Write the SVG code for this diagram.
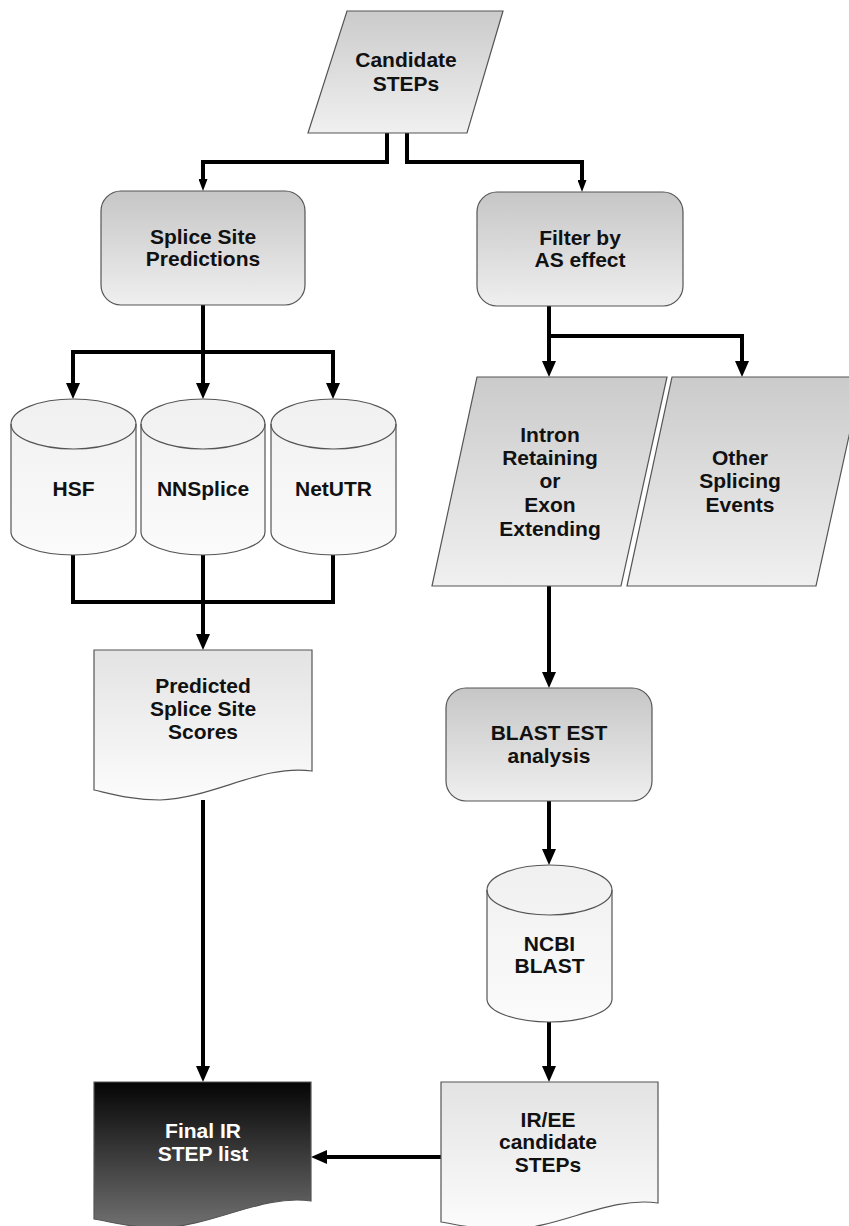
<svg xmlns="http://www.w3.org/2000/svg" width="849" height="1226" viewBox="0 0 849 1226">
<style>
.t{font-family:"Liberation Sans",Arial,sans-serif;font-weight:bold;font-size:21px;fill:#111;text-anchor:middle}
.w{fill:#fff}
.s{stroke:#555;stroke-width:1.2}
.c{fill:none;stroke:#000;stroke-width:4;stroke-linejoin:miter}
</style>
<defs>
<linearGradient id="gBox" x1="0" y1="0" x2="0" y2="1"><stop offset="0" stop-color="#c6c6c6"/><stop offset="1" stop-color="#efefef"/></linearGradient>
<linearGradient id="gPar" x1="0" y1="0" x2="0" y2="1"><stop offset="0" stop-color="#cbcbcb"/><stop offset="1" stop-color="#f0f0f0"/></linearGradient>
<linearGradient id="gCyl" x1="0" y1="0" x2="0" y2="1"><stop offset="0" stop-color="#f0f0f0"/><stop offset="1" stop-color="#fbfbfb"/></linearGradient>
<linearGradient id="gDoc" x1="0" y1="0" x2="0" y2="1"><stop offset="0" stop-color="#e3e3e3"/><stop offset="1" stop-color="#fcfcfc"/></linearGradient>
<linearGradient id="gDark" x1="0" y1="0" x2="0" y2="1"><stop offset="0" stop-color="#050505"/><stop offset="1" stop-color="#707070"/></linearGradient>
<marker id="ah" markerUnits="userSpaceOnUse" viewBox="0 0 16 14" refX="6" refY="7" markerWidth="16" markerHeight="14" orient="auto"><path d="M0,0 L16,7 L0,14 Z" fill="#000"/></marker>
<marker id="as" markerUnits="userSpaceOnUse" viewBox="0 0 12 9" refX="4" refY="4.5" markerWidth="12" markerHeight="9" orient="auto"><path d="M0,0 L12,4.5 L0,9 Z" fill="#000"/></marker>
</defs>

<g id="connectors">
<path class="c" d="M387,133 V162 H203 V183" marker-end="url(#as)"/>
<path class="c" d="M407,133 V162 H582 V184" marker-end="url(#as)"/>
<path class="c" d="M203,305 V389" marker-end="url(#ah)"/>
<path class="c" d="M73,389 V352 H333 V389" />
<path class="c" d="M73,383 V389" marker-end="url(#ah)"/>
<path class="c" d="M333,383 V389" marker-end="url(#ah)"/>
<path class="c" d="M73,555 V602 H333 V555"/>
<path class="c" d="M203,555 V640" marker-end="url(#ah)"/>
<path class="c" d="M549,306 V367" marker-end="url(#ah)"/>
<path class="c" d="M549,336 H742 V367" marker-end="url(#ah)"/>
<path class="c" d="M549,586 V678" marker-end="url(#ah)"/>
<path class="c" d="M549,801 V855" marker-end="url(#ah)"/>
<path class="c" d="M203,800 V1072" marker-end="url(#ah)"/>
<path class="c" d="M549,1022 V1072" marker-end="url(#ah)"/>
<path class="c" d="M441,1157 H321" marker-end="url(#ah)"/>
</g>

<g id="candidate">
<polygon class="s" points="347,11 503,11 467,133 308,133" fill="url(#gPar)"/>
<text class="t" x="406" y="67">Candidate</text>
<text class="t" x="406" y="91">STEPs</text>
</g>

<g id="splice">
<rect class="s" x="101" y="191" width="204" height="114" rx="20" fill="url(#gBox)"/>
<text class="t" x="203" y="244">Splice Site</text>
<text class="t" x="203" y="266">Predictions</text>
</g>

<g id="filter">
<rect class="s" x="477" y="192" width="206" height="114" rx="20" fill="url(#gBox)"/>
<text class="t" x="580" y="245">Filter by</text>
<text class="t" x="580" y="267">AS effect</text>
</g>

<g id="hsf">
<path class="s" d="M11,424 A62.5,25 0 0 1 136,424 V532 A62.5,23 0 0 1 11,532 Z" fill="url(#gCyl)"/>
<path class="s" d="M11,424 A62.5,25 0 0 0 136,424" fill="none"/>
<text class="t" x="73.5" y="496">HSF</text>
</g>

<g id="nnsplice">
<path class="s" d="M141,424 A62,25 0 0 1 265,424 V532 A62,23 0 0 1 141,532 Z" fill="url(#gCyl)"/>
<path class="s" d="M141,424 A62,25 0 0 0 265,424" fill="none"/>
<text class="t" x="203" y="496">NNSplice</text>
</g>

<g id="netutr">
<path class="s" d="M271,424 A62.5,25 0 0 1 396,424 V532 A62.5,23 0 0 1 271,532 Z" fill="url(#gCyl)"/>
<path class="s" d="M271,424 A62.5,25 0 0 0 396,424" fill="none"/>
<text class="t" x="333.5" y="496">NetUTR</text>
</g>

<g id="intron">
<polygon class="s" points="477,377 667,377 621,586 432,586" fill="url(#gPar)"/>
<text class="t" x="550" y="442">Intron</text>
<text class="t" x="550" y="465">Retaining</text>
<text class="t" x="550" y="488">or</text>
<text class="t" x="550" y="512">Exon</text>
<text class="t" x="550" y="536">Extending</text>
</g>

<g id="other">
<polygon class="s" points="672,377 862,377 816,586 627,586" fill="url(#gPar)"/>
<text class="t" x="740" y="465">Other</text>
<text class="t" x="740" y="488">Splicing</text>
<text class="t" x="740" y="512">Events</text>
</g>

<g id="predicted">
<path class="s" d="M94,650 H312 V771 C262,764 214,798 160,800 C132,800 112,794 94,790 Z" fill="url(#gDoc)"/>
<text class="t" x="203" y="693">Predicted</text>
<text class="t" x="203" y="716">Splice Site</text>
<text class="t" x="203" y="739">Scores</text>
</g>

<g id="blast">
<rect class="s" x="446" y="688" width="206" height="113" rx="20" fill="url(#gBox)"/>
<text class="t" x="549" y="740">BLAST EST</text>
<text class="t" x="549" y="763">analysis</text>
</g>

<g id="ncbi">
<path class="s" d="M487,890 A62.5,25 0 0 1 612,890 V999 A62.5,23 0 0 1 487,999 Z" fill="url(#gCyl)"/>
<path class="s" d="M487,890 A62.5,25 0 0 0 612,890" fill="none"/>
<text class="t" x="549.5" y="951">NCBI</text>
<text class="t" x="549.5" y="973">BLAST</text>
</g>

<g id="final">
<path class="s" d="M94,1082 H311 V1201 C262,1194 214,1226 160,1228 C132,1228 112,1222 94,1219 Z" fill="url(#gDark)"/>
<text class="t w" x="203" y="1138">Final IR</text>
<text class="t w" x="203" y="1161">STEP list</text>
</g>

<g id="iree">
<path class="s" d="M441,1082 H658 V1203 C609,1196 561,1228 507,1230 C479,1230 459,1225 441,1222 Z" fill="url(#gDoc)"/>
<text class="t" x="548" y="1127">IR/EE</text>
<text class="t" x="548" y="1149">candidate</text>
<text class="t" x="548" y="1172">STEPs</text>
</g>
</svg>
